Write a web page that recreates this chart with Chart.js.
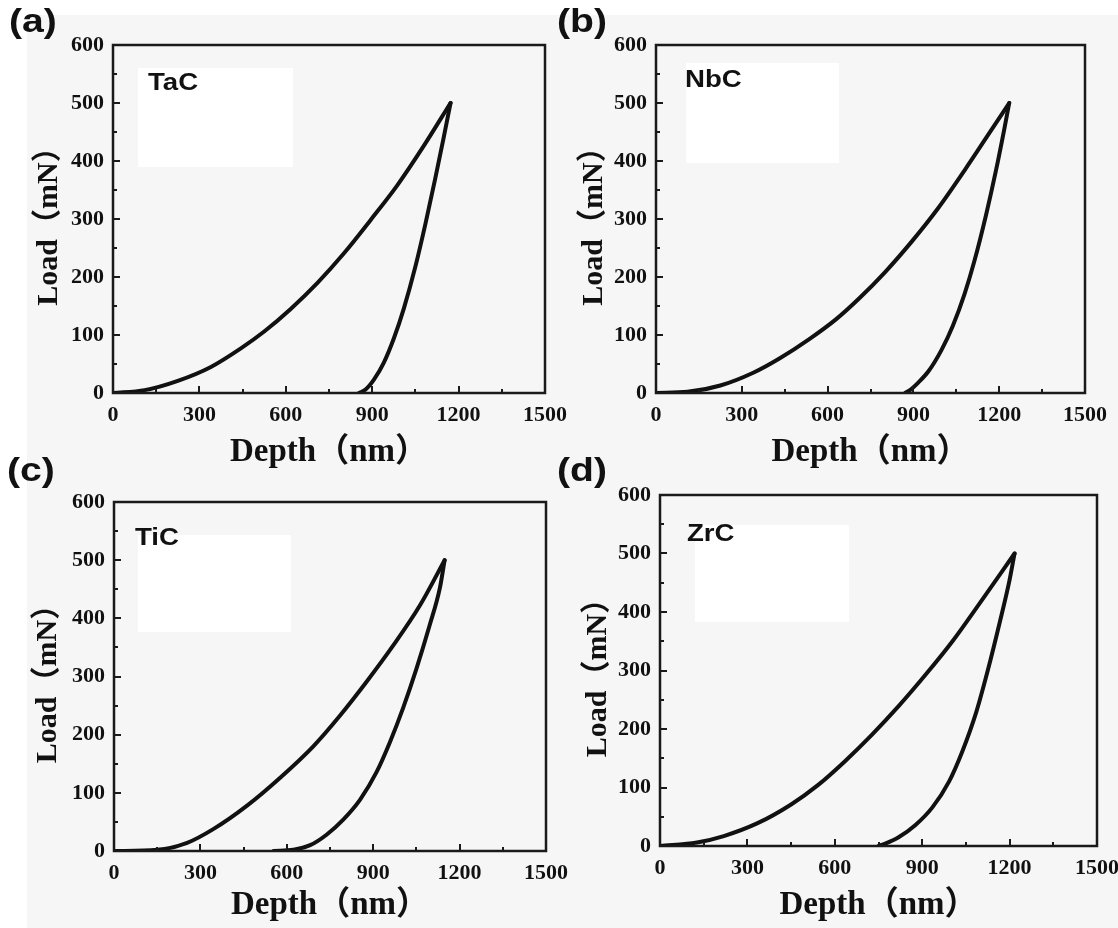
<!DOCTYPE html>
<html>
<head>
<meta charset="utf-8">
<script src="https://cdn.jsdelivr.net/npm/chart.js@4.4.0/dist/chart.umd.min.js"></script>
<style>
    body { margin: 0; width: 1118px; height: 928px; background: #fff; position: relative; overflow: hidden; }
    #bg { position: absolute; left: 27px; top: 15px; right: 0; bottom: 0; background: #f6f6f6; }
    .panel { position: absolute; }
    .tag { position: absolute; font-family: "Liberation Sans", Arial, sans-serif; font-weight: bold; font-size: 34px; line-height: 1; color: #111; transform: scaleX(1.15); transform-origin: left top; }
</style>
</head>
<body>
<div id="bg"></div>
<div class="panel" style="left:0;top:0"><canvas id="chartA" width="575" height="475"></canvas></div>
<div class="panel" style="left:559px;top:0"><canvas id="chartB" width="559" height="475"></canvas></div>
<div class="panel" style="left:0;top:460px"><canvas id="chartC" width="575" height="468"></canvas></div>
<div class="panel" style="left:559px;top:460px"><canvas id="chartD" width="559" height="468"></canvas></div>
<div class="tag" style="left:9px;top:3px">(a)</div>
<div class="tag" style="left:557px;top:3px">(b)</div>
<div class="tag" style="left:7px;top:452px">(c)</div>
<div class="tag" style="left:557px;top:452px">(d)</div>
<script>
// axis ticks
const depthTicks = [0, 300, 600, 900, 1200, 1500];
const loadTicks = [0, 100, 200, 300, 400, 500, 600];

// [depth nm, load mN]
const tacLoading = [[0, 0], [110, 5], [225, 21], [340, 45], [444, 77], [525, 106], [617, 145], [710, 190], [802, 241], [894, 298], [987, 358], [1079, 426], [1172, 500]];
const tacUnloading = [[1172, 500], [1148, 440], [1119, 370], [1085, 292], [1050, 218], [1010, 146], [975, 94], [940, 52], [906, 23], [877, 6], [854, 0]];

const nbcLoading = [[0, 0], [110, 2], [225, 13], [340, 35], [433, 60], [536, 93], [629, 127], [710, 163], [802, 209], [894, 261], [987, 319], [1079, 384], [1160, 444], [1235, 500]];
const nbcUnloading = [[1235, 500], [1217, 453], [1188, 382], [1154, 307], [1113, 227], [1079, 171], [1038, 116], [998, 74], [952, 37], [917, 18], [888, 5], [871, 0]];

const ticLoading = [[0, 0], [150, 2], [254, 14], [346, 38], [462, 78], [577, 126], [692, 180], [785, 233], [877, 291], [969, 353], [1062, 422], [1148, 500]];
const ticUnloading = [[1148, 500], [1131, 451], [1096, 388], [1050, 313], [1004, 246], [958, 187], [912, 136], [854, 88], [796, 54], [738, 28], [681, 10], [623, 2], [554, 0]];

const zrcLoading = [[0, 0], [127, 6], [219, 17], [335, 39], [450, 71], [542, 104], [635, 145], [727, 190], [819, 239], [912, 293], [1004, 350], [1096, 414], [1217, 500]];
const zrcUnloading = [[1217, 500], [1200, 455], [1165, 380], [1125, 300], [1085, 228], [1038, 162], [992, 110], [935, 66], [877, 36], [819, 15], [773, 4], [750, 0]];

const materialNames = ['TaC', 'NbC', 'TiC', 'ZrC'];

const serif = '"Liberation Serif", "Times New Roman", "Noto Sans CJK SC", serif';
const sans = '"Liberation Sans", Arial, sans-serif';

// frame, inward ticks, white label box
const framePlugin = {
    id: 'frame',
    beforeDatasetsDraw(chart, args, opts) {
        const { ctx, chartArea: a } = chart;
        ctx.save();
        ctx.fillStyle = '#fff';
        ctx.fillRect(a.left + opts.box[0], a.top + opts.box[1], opts.box[2], opts.box[3]);
        ctx.fillStyle = '#111';
        ctx.font = 'bold 24px ' + sans;
        ctx.textBaseline = 'alphabetic';
        ctx.translate(a.left + opts.text[0], a.top + opts.text[1]);
        ctx.scale(1.15, 1);
        ctx.fillText(opts.name, 0, 0);
        ctx.restore();
    },
    afterDraw(chart) {
        const { ctx, chartArea: a, scales: { x, y } } = chart;
        ctx.save();
        ctx.strokeStyle = '#1a1a1a';
        ctx.lineWidth = 2.5;
        ctx.strokeRect(a.left, a.top, a.right - a.left, a.bottom - a.top);
        ctx.lineWidth = 2;
        ctx.beginPath();
        for (let v = x.min; v <= x.max; v += 150) {
            const px = Math.round(x.getPixelForValue(v));
            const len = v % 300 === 0 ? 7 : 4;
            ctx.moveTo(px, a.bottom);
            ctx.lineTo(px, a.bottom - len);
        }
        for (let v = y.min; v <= y.max; v += 50) {
            const py = Math.round(y.getPixelForValue(v));
            const len = v % 100 === 0 ? 7 : 4;
            ctx.moveTo(a.left, py);
            ctx.lineTo(a.left + len, py);
        }
        ctx.stroke();
        ctx.restore();
    }
};

function toPoints(pairs) {
    return pairs.map(p => ({ x: p[0], y: p[1] }));
}

function makeChart(id, loading, unloading, name, s) {
    const ctx = document.getElementById(id).getContext('2d');
    const line = { showLine: true, borderColor: '#111', borderWidth: 4, pointRadius: 0, cubicInterpolationMode: 'monotone', borderJoinStyle: 'round', borderCapStyle: 'round' };
    return new Chart(ctx, {
        type: 'scatter',
        data: {
            datasets: [
                { ...line, data: toPoints(loading) },
                { ...line, data: toPoints(unloading) }
            ]
        },
        options: {
            responsive: false,
            animation: false,
            layout: { autoPadding: false, padding: { top: s.top, right: s.right, left: 0, bottom: 0 } },
            plugins: {
                legend: { display: false },
                tooltip: { enabled: false },
                frame: { name: name, box: s.box, text: s.text }
            },
            scales: {
                x: {
                    type: 'linear',
                    min: depthTicks[0],
                    max: depthTicks[depthTicks.length - 1],
                    afterBuildTicks: (scale) => { scale.ticks = depthTicks.map(v => ({ value: v })); },
                    afterFit: (scale) => { scale.height = s.xHeight; scale.paddingLeft = 0; scale.paddingRight = 0; },
                    grid: { display: false, drawTicks: false },
                    border: { display: false },
                    ticks: { padding: 9, color: '#111', maxRotation: 0, callback: (v) => String(v), font: { family: serif, weight: 'bold', size: 22 } },
                    title: { display: true, text: 'Depth（nm）', color: '#111', font: { family: serif, weight: 'bold', size: 33 }, padding: { top: 0, bottom: s.xTitlePad } }
                },
                y: {
                    type: 'linear',
                    min: loadTicks[0],
                    max: loadTicks[loadTicks.length - 1],
                    afterBuildTicks: (scale) => { scale.ticks = loadTicks.map(v => ({ value: v })); },
                    afterFit: (scale) => { scale.width = s.yWidth; scale.paddingTop = 0; scale.paddingBottom = 0; },
                    grid: { display: false, drawTicks: false },
                    border: { display: false },
                    ticks: { padding: 9, color: '#111', callback: (v) => String(v), font: { family: serif, weight: 'bold', size: 22 } },
                    title: { display: true, text: 'Load（mN）', color: '#111', font: { family: serif, weight: 'bold', size: 30 }, padding: { top: s.yTitlePad, bottom: 0 } }
                }
            }
        },
        plugins: [framePlugin]
    });
}

makeChart('chartA', tacLoading, tacUnloading, materialNames[0],
    { top: 45, right: 30, yWidth: 113, xHeight: 82, xTitlePad: 3, yTitlePad: 31, box: [25, 23, 155, 99], text: [35, 45] });
makeChart('chartB', nbcLoading, nbcUnloading, materialNames[1],
    { top: 45, right: 33, yWidth: 97, xHeight: 82, xTitlePad: 3, yTitlePad: 17, box: [30, 18, 153, 100], text: [29, 42] });
makeChart('chartC', ticLoading, ticUnloading, materialNames[2],
    { top: 42, right: 29, yWidth: 114, xHeight: 77, xTitlePad: 3, yTitlePad: 30, box: [24, 33, 153, 97], text: [21, 43] });
makeChart('chartD', zrcLoading, zrcUnloading, materialNames[3],
    { top: 35, right: 21, yWidth: 101, xHeight: 82, xTitlePad: 3, yTitlePad: 21, box: [35, 30, 154, 97], text: [27, 46] });
</script>
</body>
</html>
